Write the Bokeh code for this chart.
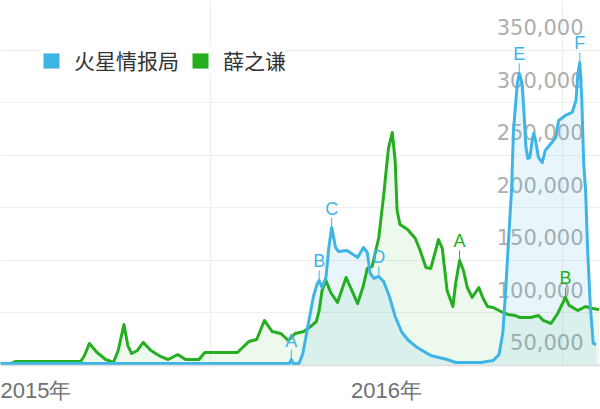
import pandas as pd
from bokeh.plotting import figure
from bokeh.models import (Range1d, FixedTicker, DatetimeTickFormatter, Grid,
                          Legend, LegendItem, LabelSet, ColumnDataSource)
from bokeh.core.properties import value
from bokeh.embed import file_html
from bokeh.resources import INLINE

# ---------------- data ----------------
series_names = ["火星情报局", "薛之谦"]

green_dates = [
    "2015-05-28", "2015-06-05", "2015-06-12", "2015-08-19", "2015-08-23",
    "2015-08-28", "2015-09-05", "2015-09-14", "2015-09-22", "2015-09-27",
    "2015-10-03", "2015-10-07", "2015-10-11", "2015-10-17", "2015-10-23",
    "2015-10-31", "2015-11-10", "2015-11-18", "2015-11-28", "2015-12-06",
    "2015-12-20", "2015-12-26", "2016-01-29", "2016-02-10", "2016-02-18",
    "2016-02-26", "2016-03-05", "2016-03-14", "2016-03-22", "2016-03-29",
    "2016-04-07", "2016-04-14", "2016-04-20", "2016-04-23", "2016-04-26",
    "2016-04-30", "2016-05-05", "2016-05-12", "2016-05-21", "2016-06-02",
    "2016-06-08", "2016-06-12", "2016-06-17", "2016-06-24", "2016-06-29",
    "2016-07-04", "2016-07-08", "2016-07-11", "2016-07-13", "2016-07-16",
    "2016-07-24", "2016-08-01", "2016-08-06", "2016-08-12", "2016-08-17",
    "2016-08-22", "2016-08-25", "2016-08-29", "2016-09-03", "2016-09-09",
    "2016-09-12", "2016-09-16", "2016-09-20", "2016-09-24", "2016-09-29",
    "2016-10-06", "2016-10-10", "2016-10-15", "2016-10-21", "2016-10-29",
    "2016-11-05", "2016-11-13", "2016-11-18", "2016-11-29", "2016-12-07",
    "2016-12-12", "2016-12-20", "2016-12-27", "2017-01-04", "2017-01-08",
    "2017-01-17", "2017-01-25", "2017-02-01", "2017-02-08",
]
green_values = [
    1000, 1000, 3800, 3800, 9500,
    21000, 12400, 5700, 2900, 14300,
    39000, 19000, 11400, 14300, 22000,
    14300, 8600, 5700, 10500, 5700,
    5700, 12400, 12400, 22900, 24800,
    42900, 32400, 30500, 23800, 30500,
    32400, 37100, 41900, 52400, 71400,
    81000, 69500, 60000, 83800, 59000,
    76200, 92400, 94300, 121900, 161900,
    206700, 221900, 195200, 147600, 134300,
    129500, 121000, 109500, 93300, 92400,
    109500, 120000, 111400, 71400, 56200,
    79000, 100000, 90500, 74300, 64800,
    74300, 64800, 56200, 55200, 51400,
    48600, 47600, 45700, 45700, 47600,
    42900, 40000, 49500, 64800, 57100,
    52400, 56200, 54300, 53300,
]

blue_dates = [
    "2015-05-27", "2016-03-23", "2016-03-25", "2016-03-27", "2016-04-02",
    "2016-04-06", "2016-04-11", "2016-04-17", "2016-04-21", "2016-04-23",
    "2016-04-26", "2016-04-30", "2016-05-03", "2016-05-06", "2016-05-10",
    "2016-05-13", "2016-05-22", "2016-06-02", "2016-06-08", "2016-06-12",
    "2016-06-15", "2016-06-19", "2016-06-24", "2016-06-29", "2016-07-05",
    "2016-07-11", "2016-07-18", "2016-07-25", "2016-08-03", "2016-08-17",
    "2016-09-03", "2016-09-12", "2016-10-08", "2016-10-21", "2016-10-27",
    "2016-10-31", "2016-11-03", "2016-11-06", "2016-11-09", "2016-11-11",
    "2016-11-15", "2016-11-17", "2016-11-20", "2016-11-22", "2016-11-24",
    "2016-11-26", "2016-11-28", "2016-12-01", "2016-12-02", "2016-12-04",
    "2016-12-07", "2016-12-11", "2016-12-14", "2016-12-20", "2016-12-25",
    "2016-12-28", "2017-01-04", "2017-01-11", "2017-01-15", "2017-01-17",
    "2017-01-19", "2017-01-21", "2017-01-23", "2017-01-25", "2017-01-27",
    "2017-01-30", "2017-02-02", "2017-02-05",
]
blue_values = [
    1900, 1900, 5700, 1900, 1900,
    11400, 36200, 65700, 78100, 81000,
    74300, 83800, 112400, 131400, 112400,
    108600, 109500, 102900, 112400, 107600,
    87600, 82900, 84800, 80000, 65700,
    46700, 31400, 23800, 17100, 9500,
    5700, 2900, 2900, 4800, 10500,
    31400, 73300, 121000, 166700, 223800,
    268600, 278100, 268600, 240000, 207600,
    197100, 198100, 217100, 221000, 214300,
    198100, 193300, 204800, 211400, 217100,
    233300, 238100, 241000, 252400, 278100,
    288600, 255200, 192400, 166700, 112400,
    55200, 21000, 20000,
]

# event flags (letter, date of the flagged point)
blue_flag_letters = ["A", "B", "C", "D", "E", "F"]
blue_flag_dates = ["2016-03-25", "2016-04-23", "2016-05-06", "2016-06-24",
                   "2016-11-17", "2017-01-19"]
green_flag_letters = ["A", "B"]
green_flag_dates = ["2016-09-16", "2017-01-04"]

y_tick_values = [50000, 100000, 150000, 200000, 250000, 300000, 350000]
y_tick_labels = ["50,000", "100,000", "150,000", "200,000", "250,000",
                 "300,000", "350,000"]
year_label_dates = ["2015-07-03", "2016-07-02"]
year_boundaries = ["2016-01-01", "2017-01-01"]

# ---------------- style ----------------
BLUE = "#3FB5E5"
GREEN = "#25AF20"
GRID = "#eeeeee"
LABEL_SHIFT = 28000     # y labels sit just below their grid line
STEM = 9500             # flag stem height (data units)


def ms(d):
    return pd.Timestamp(d).value // 10**6


g_x = pd.to_datetime(green_dates)
b_x = pd.to_datetime(blue_dates)

p = figure(width=600, height=409, x_axis_type="datetime", y_axis_location=None,
           output_backend="svg", toolbar_location=None,
           x_range=Range1d(start=pd.Timestamp("2015-05-27 15:00"),
                           end=pd.Timestamp("2017-02-09 12:00")),
           y_range=Range1d(0, 347600),
           min_border_left=0, min_border_right=0, min_border_top=0,
           min_border_bottom=44)
p.outline_line_color = None
p.background_fill_color = "white"

# x axis
xa = p.xaxis[0]
xa.ticker = FixedTicker(ticks=[ms(d) for d in year_label_dates])
fmt = DatetimeTickFormatter()
for attr in ["microseconds", "milliseconds", "seconds", "minsec", "minutes",
             "hourmin", "hours", "days", "months", "years"]:
    setattr(fmt, attr, "%Y年")
xa.formatter = fmt
xa.major_tick_line_color = None
xa.minor_tick_line_color = None
xa.major_tick_out = 0
xa.major_tick_in = 0
xa.axis_line_color = "#dddddd"
xa.axis_line_width = 1.5
xa.major_label_text_font = "Liberation Sans"
xa.major_label_text_font_size = "22px"
xa.major_label_text_color = "#707070"
xa.major_label_standoff = 12

# grids
p.xgrid.ticker = FixedTicker(ticks=[ms(d) for d in year_boundaries])
p.xgrid.grid_line_color = GRID
p.xgrid.grid_line_width = 1.2
p.add_layout(Grid(dimension=1, ticker=FixedTicker(ticks=y_tick_values[:-1]),
                  grid_line_color=GRID, grid_line_width=1.2))

# y labels (inside the plot, right side)
ysrc = ColumnDataSource(dict(y=[v - LABEL_SHIFT for v in y_tick_values],
                             text=y_tick_labels))
ylabels = LabelSet(x=583, y="y", text="text", source=ysrc, x_units="screen",
                   text_align="right", text_baseline="middle",
                   text_font=value("DejaVu Sans"), text_font_size=value("21px"),
                   text_color="#aeaeae", level="underlay")
p.add_layout(ylabels)

# areas
p.varea(x=g_x, y1=0, y2=green_values, fill_color=GREEN, fill_alpha=0.08)
p.varea(x=b_x, y1=0, y2=blue_values, fill_color=BLUE, fill_alpha=0.12)

# lines
p.line(g_x, green_values, line_color=GREEN, line_width=3, line_join="round")
p.line(b_x, blue_values, line_color=BLUE, line_width=3, line_join="round")


def flags(letters, dates, xs, vals, color):
    lookup = {d: v for d, v in zip(xs, vals)}
    fx = pd.to_datetime(dates)
    fy = [lookup[d] for d in fx]
    p.segment(x0=fx, y0=fy, x1=fx, y1=[v + STEM for v in fy],
              line_color=color, line_width=1)
    p.text(x=fx, y=fy, text=letters, y_offset=-19, text_align="center",
           text_baseline="middle", text_color=color,
           text_font=value("Liberation Sans"), text_font_size="18px")


flags(blue_flag_letters, blue_flag_dates, b_x, blue_values, BLUE)
flags(green_flag_letters, green_flag_dates, g_x, green_values, GREEN)

# legend swatches: zero-size quads at the first data point (nothing visible)
q_blue = p.quad(left=[b_x[0]], right=[b_x[0]], top=[0], bottom=[0],
                fill_color=BLUE, line_color=None)
q_green = p.quad(left=[g_x[0]], right=[g_x[0]], top=[0], bottom=[0],
                 fill_color=GREEN, line_color=None)
legend = Legend(items=[LegendItem(label=series_names[0], renderers=[q_blue]),
                       LegendItem(label=series_names[1], renderers=[q_green])],
                orientation="horizontal", location=(41, 290), padding=15,
                spacing=11, label_standoff=13, glyph_width=20, glyph_height=19,
                label_text_font="Noto Sans CJK SC", label_text_font_size="21px",
                label_text_color="#333333", background_fill_color="white",
                background_fill_alpha=1.0, border_line_color=None, margin=0)
p.add_layout(legend)

open("out.html", "w").write(file_html(p, INLINE))
